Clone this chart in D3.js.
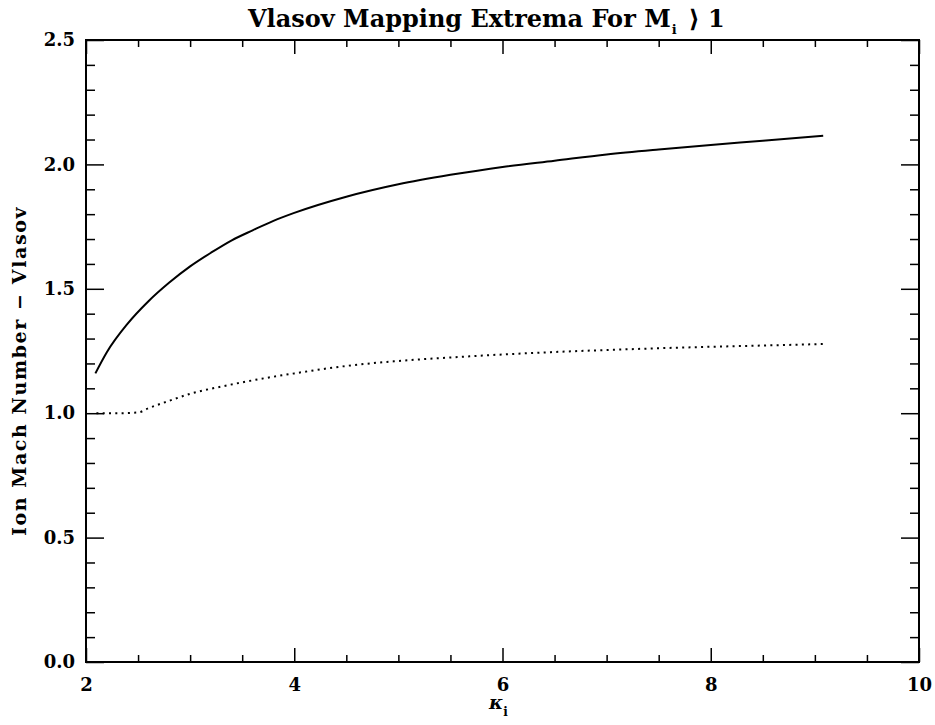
<!DOCTYPE html>
<html>
<head>
<meta charset="utf-8">
<script src="https://cdn.jsdelivr.net/npm/d3@7"></script>
<style>
  body { margin: 0; background: #fff; }
  text { font-family: "DejaVu Serif", "Liberation Serif", serif; font-weight: bold; fill: #000; }
</style>
</head>
<body>
<div id="chart"></div>
<script>
////////////////////////////// DATA ////////////////////////////////////

// upper branch (solid)
const kappaUpper = [2.09, 2.2, 2.4, 2.6, 2.8, 3.0, 3.2, 3.4, 3.6, 3.8, 4.0, 4.5, 5.0, 5.5, 6.0, 6.5, 7.0, 7.5, 8.0, 8.5, 9.08];
const machUpper = [1.16, 1.245, 1.36, 1.45, 1.525, 1.59, 1.645, 1.695, 1.735, 1.773, 1.805, 1.87, 1.92, 1.958, 1.99, 2.015, 2.04, 2.06, 2.078, 2.095, 2.115];

// lower branch (dotted)
const kappaLower = [2.1, 2.3, 2.5, 2.6, 2.8, 3.0, 3.3, 3.6, 4.0, 4.5, 5.0, 5.5, 6.0, 6.5, 7.0, 7.5, 8.0, 8.5, 9.08];
const machLower = [1.0, 1.0, 1.003, 1.02, 1.05, 1.078, 1.107, 1.132, 1.16, 1.19, 1.21, 1.224, 1.236, 1.246, 1.254, 1.261, 1.267, 1.272, 1.278];

const xTicks = [2, 4, 6, 8, 10];
const yTicks = [0.0, 0.5, 1.0, 1.5, 2.0, 2.5];

////////////////////////////// SET UP ////////////////////////////////////

const width = 935;
const height = 725;
const margin = { top: 40, right: 16, bottom: 63, left: 86 };

const svg = d3
  .select("#chart")
  .append("svg")
  .attr("width", width)
  .attr("height", height);

const x = d3.scaleLinear().domain([2, 10]).range([margin.left, width - margin.right]);
const y = d3.scaleLinear().domain([0, 2.5]).range([height - margin.bottom, margin.top]);

const x0 = x.range()[0], x1 = x.range()[1];
const y0 = y.range()[0], y1 = y.range()[1];

// minor tick values
const xMinor = d3.range(2, 10.001, 0.5).filter((v) => !xTicks.includes(v));
const yMinor = d3.range(0, 2.5001, 0.1).map((v) => +v.toFixed(1)).filter((v) => !yTicks.includes(v));

////////////////////////////// AXES ////////////////////////////////////

function styleAxis(g) {
  g.select(".domain").remove();
  g.selectAll(".tick line").attr("stroke", "#000").attr("stroke-width", 1.5);
}

// bottom
svg.append("g").attr("transform", `translate(0,${y0})`)
  .call(d3.axisBottom(x).tickValues(xTicks).tickSize(-14).tickPadding(10).tickFormat(d3.format("d")))
  .call(styleAxis)
  .call((g) => g.selectAll(".tick text").attr("font-size", 18).attr("y", 11).attr("dy", "1em"));
svg.append("g").attr("transform", `translate(0,${y0})`)
  .call(d3.axisBottom(x).tickValues(xMinor).tickSize(-7).tickFormat(""))
  .call(styleAxis);

// top
svg.append("g").attr("transform", `translate(0,${y1})`)
  .call(d3.axisTop(x).tickValues(xTicks).tickSize(-14).tickFormat(""))
  .call(styleAxis);
svg.append("g").attr("transform", `translate(0,${y1})`)
  .call(d3.axisTop(x).tickValues(xMinor).tickSize(-7).tickFormat(""))
  .call(styleAxis);

// left
svg.append("g").attr("transform", `translate(${x0},0)`)
  .call(d3.axisLeft(y).tickValues(yTicks).tickSize(-18).tickPadding(12).tickFormat(d3.format(".1f")))
  .call(styleAxis)
  .call((g) => g.selectAll(".tick text").attr("font-size", 18).attr("x", -11));
svg.append("g").attr("transform", `translate(${x0},0)`)
  .call(d3.axisLeft(y).tickValues(yMinor).tickSize(-9).tickFormat(""))
  .call(styleAxis);

// right
svg.append("g").attr("transform", `translate(${x1},0)`)
  .call(d3.axisRight(y).tickValues(yTicks).tickSize(-18).tickFormat(""))
  .call(styleAxis);
svg.append("g").attr("transform", `translate(${x1},0)`)
  .call(d3.axisRight(y).tickValues(yMinor).tickSize(-9).tickFormat(""))
  .call(styleAxis);

// frame
svg.append("rect")
  .attr("x", x0).attr("y", y1)
  .attr("width", x1 - x0).attr("height", y0 - y1)
  .attr("fill", "none").attr("stroke", "#000").attr("stroke-width", 2);

////////////////////////////// LINES ////////////////////////////////////

const line = d3.line().x((d) => x(d[0])).y((d) => y(d[1])).curve(d3.curveMonotoneX);

svg.append("path")
  .datum(d3.zip(kappaUpper, machUpper))
  .attr("d", line)
  .attr("fill", "none").attr("stroke", "#000").attr("stroke-width", 2);

svg.append("path")
  .datum(d3.zip(kappaLower, machLower))
  .attr("d", line)
  .attr("fill", "none").attr("stroke", "#000").attr("stroke-width", 2)
  .attr("stroke-dasharray", "2,4.3");

////////////////////////////// LABELS ////////////////////////////////////

// title
const title = svg.append("text")
  .attr("x", 248).attr("y", 27)
  .attr("text-anchor", "start")
  .attr("font-size", 24);
title.append("tspan").text("Vlasov Mapping Extrema For M");
title.append("tspan").attr("font-size", 13).attr("dy", 7).attr("dx", 1).text("i");
title.append("tspan").attr("dy", -7).attr("dx", 12).text("⟩ 1");

// x label
const xl = svg.append("text")
  .attr("x", (x0 + x1) / 2 - 4).attr("y", 709)
  .attr("text-anchor", "middle")
  .attr("font-size", 19);
xl.append("tspan").attr("font-style", "italic").text("κ");
xl.append("tspan").attr("font-size", 12).attr("dy", 7).text("i");

// y label
svg.append("text")
  .attr("transform", `translate(26,${371}) rotate(-90)`)
  .attr("text-anchor", "middle")
  .attr("font-size", 19)
  .attr("letter-spacing", 1.6)
  .text("Ion Mach Number − Vlasov");
</script>
</body>
</html>
